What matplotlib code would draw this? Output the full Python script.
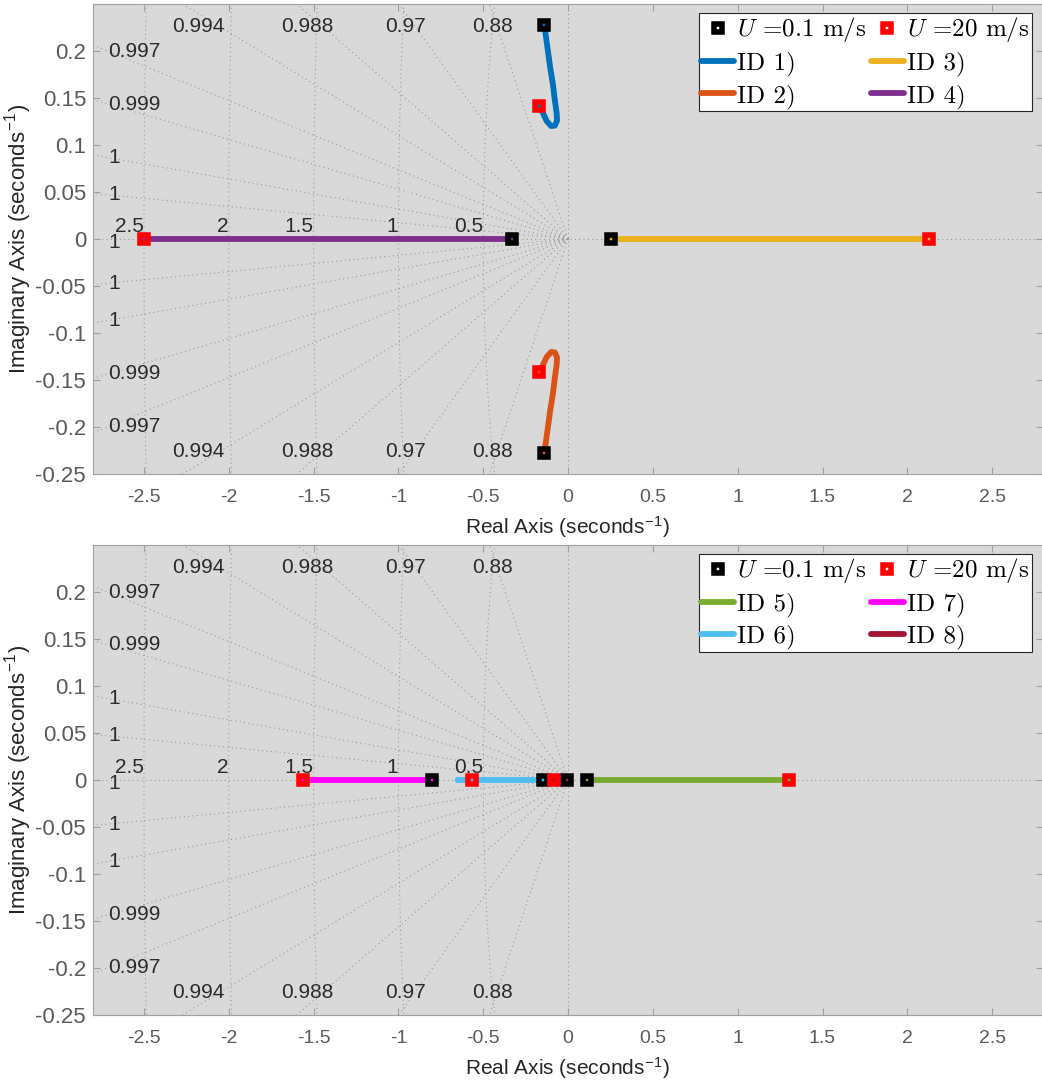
import matplotlib
matplotlib.use("Agg")
import matplotlib.pyplot as plt
import numpy as np

plt.rcParams["font.family"] = ["Liberation Sans", "DejaVu Sans"]
plt.rcParams["mathtext.fontset"] = "cm"

# damping-ratio grid (sgrid) and natural-frequency circles
ZETA = [0.88, 0.97, 0.988, 0.994, 0.9973, 0.9986, 0.99949, 0.99985]
ZETA_LABELS = ["0.88", "0.97", "0.988", "0.994", "0.997", "0.999", "1", "1"]
WN = [0.5, 1.0, 1.5, 2.0, 2.5]
WN_LABELS = ["0.5", "1", "1.5", "2", "2.5"]

XTICKS = [-2.5, -2, -1.5, -1, -0.5, 0, 0.5, 1, 1.5, 2, 2.5]
XTICK_LABELS = ["-2.5", "-2", "-1.5", "-1", "-0.5", "0", "0.5", "1", "1.5", "2", "2.5"]
YTICKS = [-0.25, -0.2, -0.15, -0.1, -0.05, 0, 0.05, 0.1, 0.15, 0.2]
YTICK_LABELS = ["-0.25", "-0.2", "-0.15", "-0.1", "-0.05", "0", "0.05", "0.1", "0.15", "0.2"]

# top panel: pole loci, U = 0.1 m/s -> 20 m/s
id1_re = [-0.140, -0.122, -0.106, -0.090, -0.078, -0.067, -0.065, -0.078, -0.100, -0.126, -0.149, -0.169]
id1_im = [0.2277, 0.2046, 0.1833, 0.1656, 0.1479, 0.1337, 0.1259, 0.1206, 0.1202, 0.1255, 0.1344, 0.1418]
id2_re = [-0.140, -0.122, -0.106, -0.090, -0.078, -0.067, -0.065, -0.078, -0.100, -0.126, -0.149, -0.169]
id2_im = [-0.2277, -0.2046, -0.1833, -0.1656, -0.1479, -0.1337, -0.1259, -0.1206, -0.1202, -0.1255, -0.1344, -0.1418]
id3_re = [0.254, 2.13]
id3_im = [0.0, 0.0]
id4_re = [-0.33, -2.50]
id4_im = [0.0, 0.0]

# bottom panel
id5_re = [0.114, 1.305]
id5_im = [0.0, 0.0]
id6_re = [-0.149, -0.647, -0.564]
id6_im = [0.0, 0.0, 0.0]
id7_re = [-0.80, -1.564]
id7_im = [0.0, 0.0]
id8_re = [-0.008, -0.083]
id8_im = [0.0, 0.0]

TOP_SERIES = [("ID 1)", id1_re, id1_im, "#0072BD"),
              ("ID 2)", id2_re, id2_im, "#D95319"),
              ("ID 3)", id3_re, id3_im, "#EDB120"),
              ("ID 4)", id4_re, id4_im, "#7E2F8E")]
BOT_SERIES = [("ID 5)", id5_re, id5_im, "#77AC30"),
              ("ID 6)", id6_re, id6_im, "#4DBEEE"),
              ("ID 7)", id7_re, id7_im, "#FF00FF"),
              ("ID 8)", id8_re, id8_im, "#A2142F")]

GRID_KW = dict(color="#959595", linestyle=(0, (1, 3.2)), linewidth=0.75, zorder=1)
LABEL_KW = dict(fontsize=15, color="#2b2b2b", zorder=2)
XLIM = (-2.8, 2.8)
YLIM = (-0.25, 0.25)
MARKER_KW = dict(linestyle="none", marker="s", markersize=6.4,
                 markerfacecolor="none", markeredgewidth=4.0)


def _draw_sgrid(ax):
    ax.axhline(0, **GRID_KW)
    ax.axvline(0, **GRID_KW)
    for z, lab in zip(ZETA, ZETA_LABELS):
        slope = np.tan(np.arccos(z))
        for s in (1, -1):
            # ray starts at the origin so the dotted pattern converges there
            ax.plot([0, -3.0], [0, s * 3.0 * slope], **GRID_KW)
            if -XLIM[0] * slope > YLIM[1]:
                ax.text(-0.24 / slope, s * 0.226, lab, ha="center", va="center", **LABEL_KW)
            else:
                ax.text(-2.71, s * 2.71 * slope, lab, ha="left", va="center", **LABEL_KW)
    ax.text(-2.71, -0.004, "1", ha="left", va="center", **LABEL_KW)
    th = np.linspace(np.pi / 2, 3 * np.pi / 2, 600)
    for wn, lab in zip(WN, WN_LABELS):
        ax.plot(wn * np.cos(th), wn * np.sin(th), **GRID_KW)
        ax.text(-wn, 0.003, lab, ha="right", va="bottom", **LABEL_KW)


def _style_axes(ax):
    ax.set_facecolor("#d9d9d9")
    ax.set_xlim(*XLIM)
    ax.set_ylim(*YLIM)
    ax.set_xticks(XTICKS, XTICK_LABELS)
    ax.set_yticks(YTICKS, YTICK_LABELS)
    ax.tick_params(direction="in", length=5, width=0.8, color="#a0a0a0",
                   labelcolor="#5a5a5a", top=True, right=True)
    ax.tick_params(axis="x", pad=11, labelsize=14)
    ax.tick_params(axis="y", pad=5, labelsize=16)
    for sp in ax.spines.values():
        sp.set_color("#a0a0a0")
        sp.set_linewidth(0.8)
    ax.set_xlabel("Real Axis (seconds$^{\\mathregular{-1}}$)", fontsize=15,
                  color="#262626", labelpad=6)
    ax.set_ylabel("Imaginary Axis (seconds$^{\\mathregular{-1}}$)", fontsize=16,
                  color="#262626")
    ax.yaxis.set_label_coords(-0.061, 0.5)


def _draw_panel(ax, series):
    _style_axes(ax)
    _draw_sgrid(ax)
    handles = {}
    for name, re, im, col in series:
        ln, = ax.plot(re, im, color=col, linewidth=4.2, solid_capstyle="round",
                      zorder=3, label=name)
        handles[name] = ln
    for name, re, im, col in series:
        ax.plot(re[0], im[0], markeredgecolor="k", zorder=4, **MARKER_KW)
        ax.plot(re[-1], im[-1], markeredgecolor="#FF0000", zorder=4, **MARKER_KW)
    h_lo, = ax.plot([], [], markeredgecolor="k", **MARKER_KW)
    h_hi, = ax.plot([], [], markeredgecolor="#FF0000", **MARKER_KW)
    names = [s[0] for s in series]
    order = [h_lo, handles[names[0]], handles[names[1]],
             h_hi, handles[names[2]], handles[names[3]]]
    labels = ["$U$ =0.1 m/s", names[0], names[1],
              "$U$ =20 m/s", names[2], names[3]]
    leg = ax.legend(order, labels, ncol=2, loc="upper right",
                    bbox_to_anchor=(0.988, 0.981), borderaxespad=0,
                    prop={"family": "cmr10", "size": 18}, fancybox=False,
                    framealpha=1, edgecolor="#262626", handlelength=1.3,
                    handletextpad=0.12, columnspacing=0.2, labelspacing=0.3,
                    borderpad=0.1)
    leg.get_frame().set_linewidth(0.8)
    leg.set_zorder(10)


fig = plt.figure(figsize=(10.42, 10.84), dpi=100)
ax_top = fig.add_axes([0.0893, 0.5627, 0.9117, 0.4336])
ax_bot = fig.add_axes([0.0893, 0.0637, 0.9117, 0.4336])

_draw_panel(ax_top, TOP_SERIES)
_draw_panel(ax_bot, BOT_SERIES)

fig.savefig("out.png", dpi=100, facecolor="white")
